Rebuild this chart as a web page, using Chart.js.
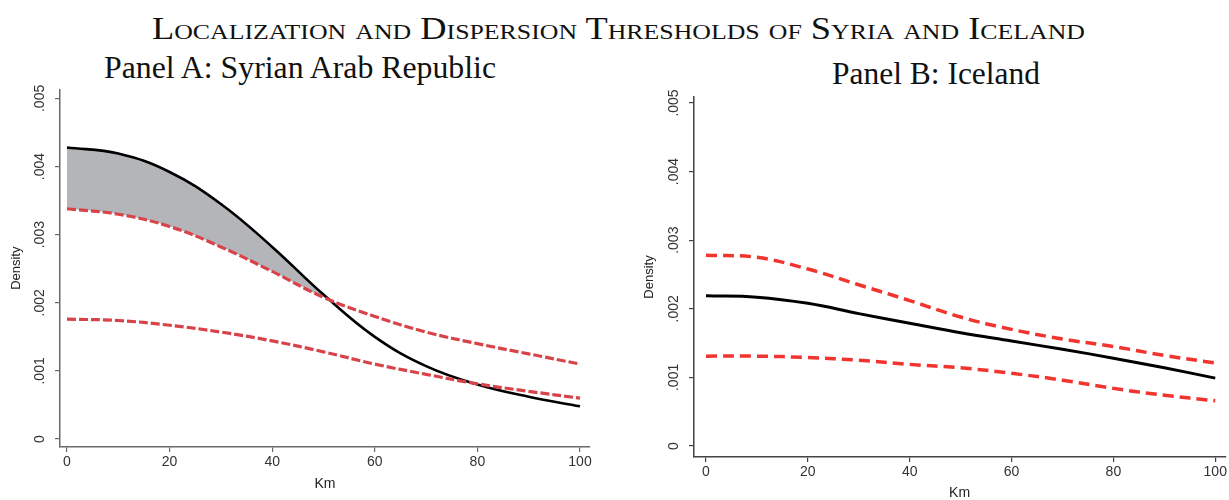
<!DOCTYPE html>
<html><head><meta charset="utf-8">
<script src="https://cdn.jsdelivr.net/npm/chart.js@4.4.0/dist/chart.umd.min.js"></script>
<style>
html,body{margin:0;padding:0;background:#fff;width:1229px;height:500px;overflow:hidden;}
.txt{position:absolute;white-space:nowrap;font-family:"Liberation Serif","DejaVu Serif",serif;color:#111;line-height:1;transform-origin:0 50%;}
#title{font-variant:small-caps;font-size:31px;}
.ptitle{font-size:32px;}
.box{position:absolute;}
</style></head><body>
<div id="title" class="txt">Localization and Dispersion Thresholds of Syria and Iceland</div>
<div id="pa" class="txt ptitle">Panel A: Syrian Arab Republic</div>
<div id="pb" class="txt ptitle">Panel B: Iceland</div>
<div class="box" style="left:0;top:80px;width:600px;height:420px"><canvas id="cA"></canvas></div>
<div class="box" style="left:620px;top:85px;width:609px;height:420px"><canvas id="cB"></canvas></div>
<script>
// ---- data ----
const km = [0, 10, 20, 30, 40, 50, 60, 70, 80, 90, 100];
const syriaDensity = [0.00428, 0.00419, 0.00392, 0.00345, 0.00282, 0.00212, 0.00150, 0.00107, 0.00080, 0.00062, 0.00048];
const syriaUpper   = [0.00338, 0.00330, 0.00312, 0.00282, 0.00246, 0.00208, 0.00180, 0.00157, 0.00140, 0.00125, 0.00110];
const syriaLower   = [0.00176, 0.00174, 0.00167, 0.00157, 0.00144, 0.00128, 0.00110, 0.00095, 0.00081, 0.00070, 0.00060];
const icelandDensity = [0.00219, 0.00217, 0.00208, 0.00193, 0.00179, 0.00165, 0.00153, 0.00141, 0.00128, 0.00114, 0.00099];
const icelandUpper   = [0.00278, 0.00275, 0.00258, 0.00235, 0.00212, 0.00188, 0.00170, 0.00156, 0.00145, 0.00132, 0.00121];
const icelandLower   = [0.00131, 0.00131, 0.00129, 0.00125, 0.00119, 0.00114, 0.00106, 0.00096, 0.00084, 0.00074, 0.00066];
const xTickValues = [0, 20, 40, 60, 80, 100];
const xTickLabels = ['0', '20', '40', '60', '80', '100'];
const yTickValues = [0, 0.001, 0.002, 0.003, 0.004, 0.005];
const yTickLabels = ['0', '.001', '.002', '.003', '.004', '.005'];

function pts(ys){ return km.map((k,i)=>({x:k, y:ys[i]})); }

function fitText(id, left, width, centerY){
  const el = document.getElementById(id);
  const w = el.getBoundingClientRect().width;
  const h = el.getBoundingClientRect().height;
  el.style.left = left + 'px';
  el.style.top = (centerY - h/2) + 'px';
  el.style.transform = 'scaleX(' + (width / w) + ')';
}
fitText('title', 152, 933, 28);
fitText('pa', 104, 392, 67);
fitText('pb', 832, 208, 73);

function makeChart(id, cfg){
  const tickFont = {family:'Liberation Sans', size:14};
  return new Chart(document.getElementById(id), {
    type:'line',
    data:{datasets: cfg.datasets},
    options:{
      responsive:true, maintainAspectRatio:false, animation:false,
      layout:{padding:cfg.padding},
      plugins:{legend:{display:false}, tooltip:{enabled:false}, filler:{drawTime:'beforeDatasetsDraw'}},
      elements:{point:{radius:0}, line:{tension:0.4}},
      scales:{
        x:{type:'linear', min:cfg.xmin, max:cfg.xmax,
          afterBuildTicks:s=>{s.ticks = xTickValues.map(v=>({value:v}));},
          afterFit:s=>{s.height = cfg.xh;},
          border:{display:true, color:cfg.axisColor, width:1.5},
          grid:{display:true, drawOnChartArea:false, drawTicks:true, tickLength:5, color:cfg.axisColor, lineWidth:1.2},
          ticks:{padding:2, font:tickFont, color:'#333', maxRotation:0, minRotation:0, autoSkip:false, callback:(v,i)=>xTickLabels[i]},
          title:{display:true, text:'Km', font:{family:'Liberation Sans', size:14}, color:'#222', padding:{top:0, bottom:cfg.kmPad}}
        },
        y:{type:'linear', min:cfg.ymin, max:cfg.ymax,
          afterBuildTicks:s=>{s.ticks = yTickValues.map(v=>({value:v}));},
          afterFit:s=>{s.width = cfg.yw;},
          border:{display:true, color:cfg.axisColor, width:1.5},
          grid:{display:true, drawOnChartArea:false, drawTicks:true, tickLength:5, color:cfg.axisColor, lineWidth:1.2},
          ticks:{padding:1, font:tickFont, color:'#333', minRotation:90, maxRotation:90, crossAlign:'center', autoSkip:false, callback:(v,i)=>yTickLabels[i]},
          title:{display:true, text:'Density', font:{family:'Liberation Sans', size:13}, color:'#222', padding:{top:cfg.densPad, bottom:0}}
        }
      }
    }
  });
}

makeChart('cA', {
  padding:{top:8, right:10, bottom:0, left:0},
  xmin:-1.36, xmax:101.95, ymin:-0.000117, ymax:0.005132,
  xh:53, yw:60, kmPad:7, densPad:9, axisColor:'#6a6a6a',
  datasets:[
    {data:pts(syriaUpper), borderColor:'#d8434a', borderWidth:3.2, borderDash:[9,3], fill:false},
    {data:pts(syriaLower), borderColor:'#d8434a', borderWidth:3.2, borderDash:[9,3], fill:false},
    {data:pts(syriaDensity), borderColor:'#000', borderWidth:2.6, fill:{target:0, above:'#b4b5b9', below:'rgba(0,0,0,0)'}}
  ]
});

makeChart('cB', {
  padding:{top:12, right:3, bottom:0, left:0},
  xmin:-2.35, xmax:101.96, ymin:-0.00016, ymax:0.005087,
  xh:48, yw:74, kmPad:3, densPad:22, axisColor:'#444',
  datasets:[
    {data:pts(icelandUpper), borderColor:'#f2342e', borderWidth:3.5, borderDash:[11,6], fill:false},
    {data:pts(icelandLower), borderColor:'#f2342e', borderWidth:3.5, borderDash:[11,6], fill:false},
    {data:pts(icelandDensity), borderColor:'#000', borderWidth:3, fill:false}
  ]
});
</script>
</body></html>
